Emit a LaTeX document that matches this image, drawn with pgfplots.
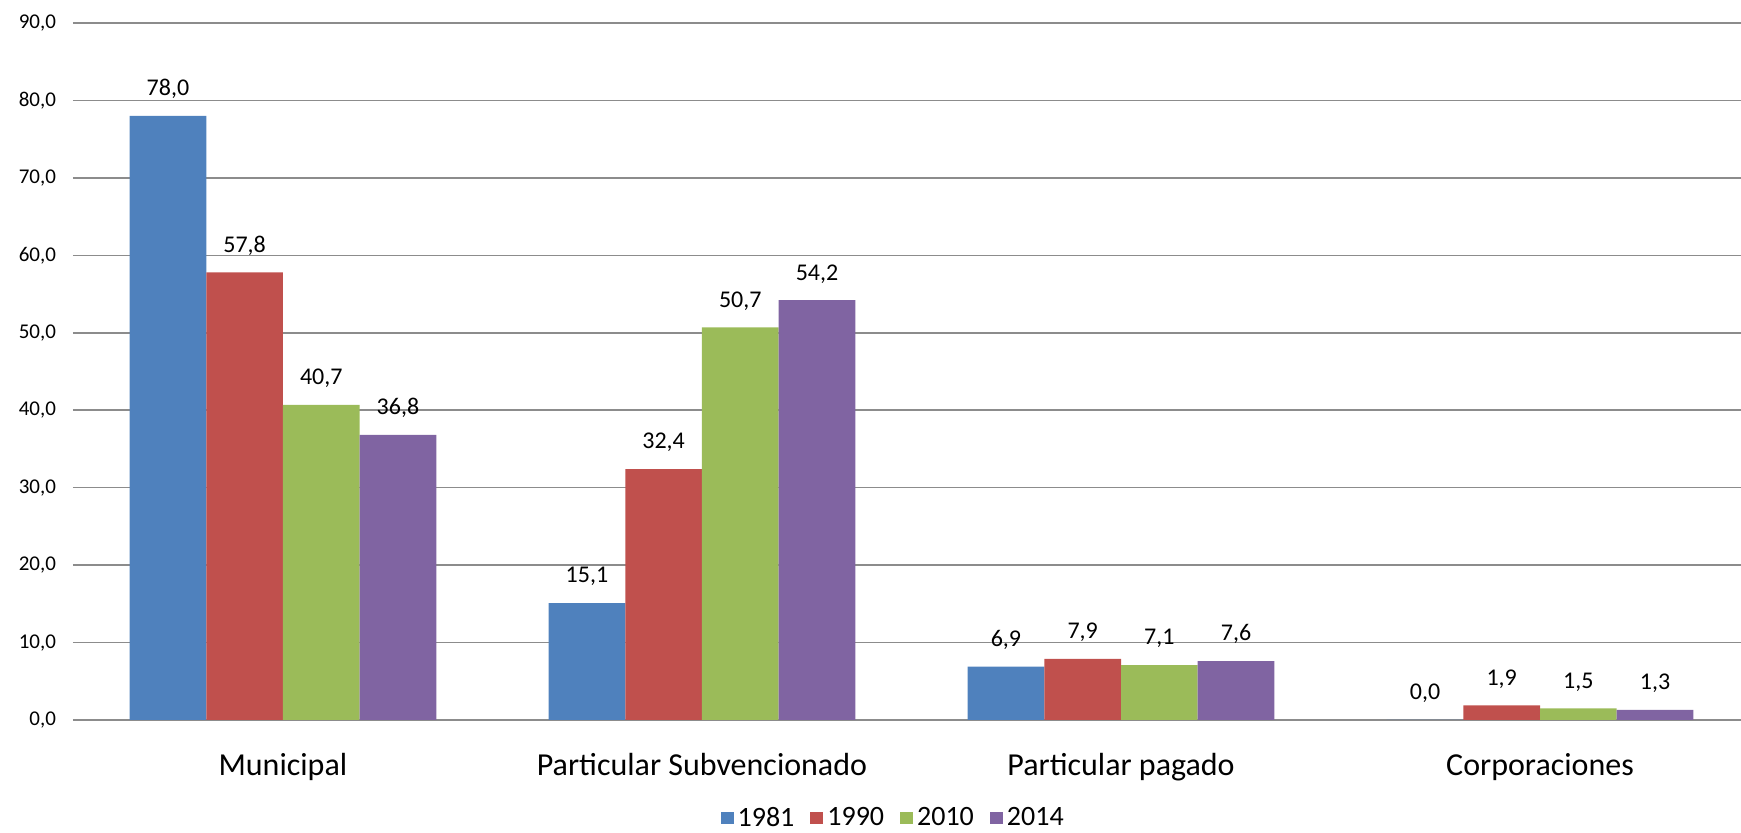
\documentclass[border=0pt]{standalone}
\usepackage{pgfplots}
\pgfplotsset{compat=1.18}
\usepackage{fontspec}
\setmainfont{Carlito}

\definecolor{c1981}{HTML}{4F81BD}
\definecolor{c1990}{HTML}{C0504D}
\definecolor{c2010}{HTML}{9BBB59}
\definecolor{c2014}{HTML}{8064A2}
\definecolor{gridgray}{HTML}{8C8C8C}

\begin{document}
\begin{tikzpicture}
\useasboundingbox (-36.5pt,-56.5pt) rectangle (834pt,360pt);
\begin{axis}[
    scale only axis,
    width=834.5pt, height=348.5pt,
    ybar=0pt, bar width=0.183,
    xmin=-0.501, xmax=3.482,
    ymin=0, ymax=90,
    ytick={0,10,...,90},
    xtick={0,1,2,3},
    xticklabels={Municipal, Particular Subvencionado, Particular pagado, Corporaciones},
    xticklabel style={font=\fontsize{16}{18}\selectfont, yshift=-13pt},
    yticklabel style={font=\fontsize{10.5}{12}\selectfont, xshift=-5pt},
    /pgf/number format/assume math mode=true,
    /pgf/number format/.cd, use comma, fixed, fixed zerofill, precision=1, /pgfplots/.cd,
    major tick length=0pt,
    axis line style={draw=none},
    ymajorgrids, grid style={gridgray, line width=0.8pt},
    nodes near coords,
    every node near coord/.append style={font=\fontsize{12}{14}\selectfont, yshift=5pt},
    legend columns=4,
    legend style={draw=none, at={(rel axis cs:0.492,0)}, anchor=center, yshift=-49pt,
        inner sep=0pt, fill=none,
        font=\fontsize{14}{16}\selectfont, /tikz/every even column/.append style={column sep=6pt}},
    legend image code/.code={\fill[#1] (0pt,-3.2pt) rectangle (6.5pt,3.2pt);},
]
\addplot[fill=c1981, draw=none] coordinates {(0,78.0) (1,15.1) (2,6.9) (3,0.0)};
\addplot[fill=c1990, draw=none] coordinates {(0,57.8) (1,32.4) (2,7.9) (3,1.9)};
\addplot[fill=c2010, draw=none] coordinates {(0,40.7) (1,50.7) (2,7.1) (3,1.5)};
\addplot[fill=c2014, draw=none] coordinates {(0,36.8) (1,54.2) (2,7.6) (3,1.3)};
\legend{1981,1990,2010,2014}
\end{axis}
\end{tikzpicture}
\end{document}
